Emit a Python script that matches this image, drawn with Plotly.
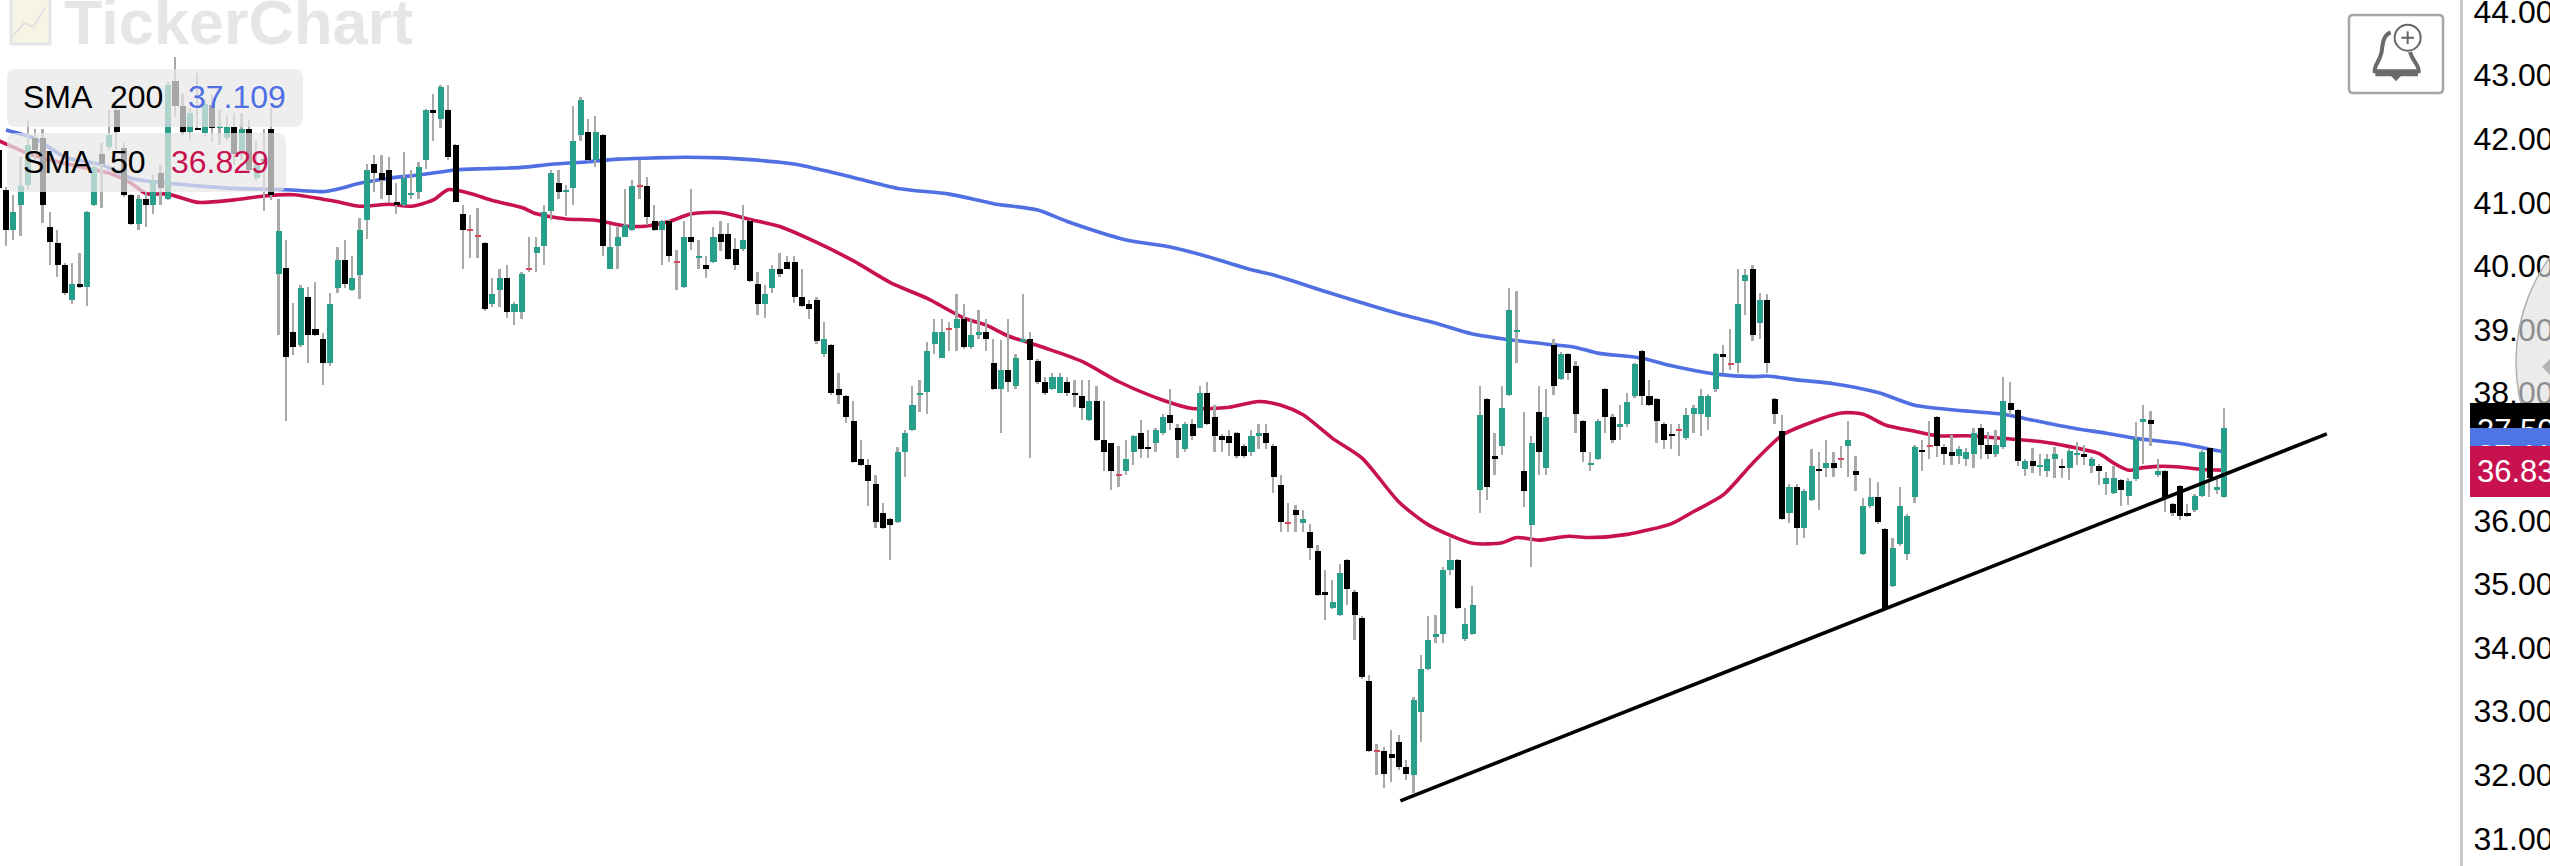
import plotly.graph_objects as go

# ---------- data (price values) ----------
opens = [
41.82,41.20,40.57,40.96,41.27,42.01,42.01,40.61,40.36,40.02,
39.47,39.71,39.67,40.96,41.76,41.87,42.45,41.85,41.11,40.66,
41.05,40.96,41.46,41.06,42.91,42.51,42.11,42.17,42.09,42.53,
42.17,42.02,42.18,41.77,42.15,41.38,41.68,42.15,39.87,39.97,
38.97,38.76,39.52,39.01,38.86,38.47,39.66,40.10,39.62,39.86,
40.72,41.61,41.46,41.51,41.01,40.96,41.12,41.17,41.67,42.45,
42.31,42.45,41.90,40.81,40.57,40.47,40.36,39.41,39.62,39.81,
39.27,39.27,39.96,40.21,40.31,40.87,41.31,41.17,41.22,42.06,
42.11,41.66,42.06,39.96,40.31,40.46,40.57,41.26,41.26,40.71,
40.57,40.70,40.07,39.67,40.46,40.12,40.02,40.07,40.51,40.51,
40.26,40.26,40.71,39.71,39.41,39.66,39.96,40.06,40.06,39.51,
39.41,39.47,38.62,38.76,38.06,37.96,37.57,36.96,36.87,36.57,
36.12,36.02,35.97,37.07,37.42,37.97,38.02,38.77,38.56,39.02,
39.02,39.16,38.72,38.92,38.97,38.47,38.07,38.36,38.12,38.81,
38.86,38.51,38.17,38.07,38.01,38.17,38.01,37.96,37.58,37.87,
37.26,37.21,36.72,36.77,37.07,37.37,37.16,37.22,37.37,37.66,
37.46,37.12,37.52,37.46,38.01,37.62,37.32,37.32,37.37,37.17,
37.07,37.33,37.37,37.17,36.56,35.97,36.16,35.96,35.82,35.52,
34.87,34.62,34.52,35.37,34.87,34.47,33.47,32.38,32.38,32.33,
32.52,32.13,31.99,32.98,33.67,34.17,34.22,35.22,35.37,34.13,
34.22,36.48,37.91,37.01,37.17,37.97,38.97,36.77,35.93,37.71,
36.82,38.76,38.22,38.61,38.42,37.56,36.87,36.97,38.06,37.62,
37.47,37.52,37.96,38.66,37.96,37.91,37.52,37.36,37.42,37.29,
37.67,37.67,37.62,38.07,38.61,38.47,38.47,39.76,39.96,39.11,
39.47,37.91,37.41,36.12,36.52,35.88,36.32,36.81,36.82,36.91,
36.97,37.17,36.77,35.47,36.22,36.37,35.86,34.97,35.63,35.47,
36.37,37.11,37.17,37.62,37.16,37.07,37.01,36.96,37.05,37.46,
37.18,37.04,37.15,37.84,37.73,36.81,36.93,36.85,36.77,36.97,
36.86,36.82,37.04,37.04,36.86,36.86,36.57,36.43,36.63,36.39,
36.65,37.54,37.58,36.71,36.78,36.26,36.54,36.12,36.16,36.39,
37.14,36.48,36.37]

closes = [
41.22,40.57,40.85,41.26,41.90,41.82,40.96,40.37,40.02,39.57,
39.71,39.67,40.85,41.56,41.61,42.06,42.10,41.12,40.66,41.06,
40.96,41.36,41.22,42.85,42.52,42.10,42.40,42.15,42.55,42.17,
42.19,42.18,41.76,42.15,41.51,41.59,41.66,41.12,40.55,38.57,
38.72,39.66,38.92,38.92,38.47,39.41,40.10,39.72,39.81,40.57,
41.51,41.47,41.36,41.12,40.96,41.39,41.15,41.56,42.45,42.41,
42.81,41.71,41.01,40.57,40.57,40.47,39.32,39.56,39.81,39.27,
39.41,39.87,39.96,40.30,40.85,41.46,41.17,41.20,41.96,42.61,
41.67,42.11,40.31,40.30,40.46,40.65,41.26,41.26,40.77,40.57,
40.70,40.16,40.07,40.46,40.37,40.16,39.96,40.46,40.37,40.11,
40.02,40.41,39.77,39.41,39.56,39.96,39.87,39.96,39.52,39.37,
39.32,38.82,38.86,38.01,37.97,37.62,36.92,36.87,36.62,35.97,
35.88,35.93,37.07,37.37,37.81,38.01,38.67,38.97,38.97,39.02,
39.16,38.72,38.92,38.97,38.86,38.07,38.36,38.17,38.56,38.86,
38.52,38.17,38.01,38.26,38.26,38.01,37.97,37.77,37.87,37.27,
37.07,36.77,36.72,36.96,37.32,37.12,37.12,37.42,37.62,37.53,
37.27,37.52,37.32,38.01,37.52,37.32,37.26,37.22,37.01,37.02,
37.32,37.37,37.22,36.68,35.98,35.97,36.08,36.02,35.57,34.83,
34.83,34.71,35.17,34.92,34.52,33.53,32.38,32.38,32.02,32.27,
32.13,32.02,33.18,33.67,34.12,34.22,35.22,35.38,34.62,34.37,
34.67,37.66,36.52,36.97,37.76,39.31,39.00,36.47,37.21,37.07,
37.62,38.12,38.61,38.32,37.67,37.07,36.91,37.56,37.62,37.26,
37.51,37.86,38.46,37.96,37.81,37.56,37.26,37.32,37.42,37.66,
37.76,37.96,37.96,38.61,38.57,38.47,39.41,39.86,38.92,39.47,
38.47,37.67,36.02,36.52,35.88,36.47,36.86,36.77,36.91,36.82,
36.97,37.27,36.72,36.22,36.37,35.97,34.62,35.56,36.22,36.07,
37.16,37.08,37.17,37.17,37.05,37.01,37.12,37.07,37.38,37.19,
37.05,37.18,37.88,37.74,36.93,36.93,36.86,36.87,36.97,37.05,
36.82,37.09,37.06,36.99,36.97,36.78,36.66,36.66,36.48,36.62,
37.28,37.59,37.52,36.78,36.35,36.11,36.07,36.07,36.39,37.07,
36.66,36.53,37.46]

highs = [
41.90,41.25,41.12,41.72,42.30,42.16,42.16,40.85,40.56,40.05,
40.04,40.21,40.87,41.65,41.93,42.45,42.48,41.93,41.13,41.12,
41.17,41.43,41.59,42.90,43.29,42.71,42.48,43.04,42.62,42.69,
42.45,42.37,42.40,42.40,42.30,41.96,42.15,42.48,41.06,40.41,
39.42,39.70,39.67,39.75,38.95,39.57,40.30,40.41,40.16,40.75,
41.61,41.75,41.75,41.71,41.30,41.80,41.51,41.64,42.47,42.70,
42.85,42.85,41.92,40.96,40.80,40.91,40.38,39.81,39.96,40.02,
39.43,39.91,40.46,40.46,40.96,41.51,41.51,41.27,42.51,42.66,
42.31,42.36,42.08,40.65,40.62,41.21,41.35,41.66,41.40,40.96,
40.72,40.72,40.25,40.70,41.21,40.41,40.16,40.62,40.70,40.67,
40.44,40.96,40.73,39.91,39.70,40.02,40.21,40.15,40.15,39.96,
39.47,39.52,39.12,38.78,38.31,37.97,37.87,37.26,36.96,36.71,
36.27,36.03,37.16,37.42,38.11,38.21,38.81,39.16,39.16,39.12,
39.56,39.41,39.18,39.31,39.16,38.86,38.84,39.16,38.62,39.56,
38.97,38.53,38.26,38.32,38.31,38.26,38.21,38.21,38.21,38.11,
37.87,37.22,37.17,37.26,37.35,37.58,37.42,37.45,37.68,38.06,
37.52,37.55,37.60,38.11,38.17,37.81,37.36,37.42,37.39,37.20,
37.42,37.52,37.52,37.20,36.71,36.27,36.25,36.16,35.95,35.61,
35.22,35.06,35.32,35.40,34.90,34.49,33.57,32.49,32.44,32.71,
32.62,32.23,33.23,33.88,34.49,34.51,35.27,35.72,35.39,34.62,
34.97,38.12,37.93,37.37,38.11,39.66,39.61,37.71,37.32,38.11,
38.06,38.86,38.65,38.63,38.51,37.58,37.07,37.60,38.08,37.67,
37.81,38.01,38.48,38.68,38.21,37.93,37.54,37.52,37.52,37.76,
37.81,38.06,37.98,38.63,38.76,39.01,39.96,39.96,40.02,39.57,
39.56,37.92,37.66,36.57,36.57,36.50,37.12,37.07,37.27,37.07,
37.17,37.56,37.01,36.36,36.66,36.61,35.88,35.72,36.52,36.10,
37.18,37.26,37.57,37.64,37.20,37.34,37.17,37.14,37.46,37.51,
37.39,37.42,38.26,38.17,37.75,36.96,37.14,37.04,37.05,37.16,
36.97,37.13,37.24,37.19,37.00,36.88,36.76,36.86,36.65,36.66,
37.54,37.82,37.72,36.97,36.80,36.28,36.56,36.26,36.42,37.10,
37.16,36.66,37.76]

lows = [
41.10,40.31,40.41,40.47,41.19,41.67,40.67,40.02,39.82,39.54,
39.41,39.65,39.37,40.94,40.91,41.82,41.82,41.08,40.64,40.57,
40.62,40.82,40.96,41.03,42.35,42.06,41.97,42.15,42.05,41.95,
41.90,41.98,41.59,41.67,41.46,41.33,40.87,41.04,38.92,37.57,
38.60,38.73,38.47,38.90,38.13,38.42,39.57,39.65,39.60,39.48,
40.42,41.17,41.06,40.99,40.82,40.94,41.06,41.06,41.52,41.97,
42.17,41.67,41.00,39.96,40.12,40.12,39.30,39.36,39.36,39.18,
39.07,39.16,39.91,39.91,40.02,40.72,41.06,40.78,40.96,41.97,
41.65,41.56,40.16,39.95,39.96,40.45,40.55,41.06,40.65,40.55,
40.02,40.07,39.62,39.65,40.25,39.96,39.81,40.05,40.23,40.10,
39.93,40.24,39.75,39.23,39.18,39.57,39.83,39.95,39.42,39.35,
39.16,38.77,38.57,37.97,37.83,37.53,36.90,36.85,36.23,35.88,
35.87,35.38,35.96,36.68,37.40,37.70,37.67,38.62,38.55,38.67,
38.67,38.70,38.70,38.86,38.67,38.05,37.38,38.02,38.07,38.81,
36.98,38.15,37.97,38.05,38.00,37.96,37.78,37.58,37.57,37.25,
36.78,36.48,36.52,36.71,36.87,36.98,36.98,37.08,37.35,37.42,
36.98,37.07,37.27,37.45,37.50,37.07,37.07,37.01,36.98,36.98,
37.01,37.12,37.12,36.43,35.82,35.82,35.82,35.82,35.38,34.81,
34.43,34.60,34.50,34.67,34.12,33.50,32.36,32.00,31.79,31.89,
32.08,31.92,31.71,32.52,33.65,34.07,34.07,35.14,34.60,34.11,
34.20,36.12,36.32,36.72,37.03,37.95,38.47,36.21,35.27,36.72,
36.72,37.97,38.20,38.20,37.37,36.92,36.77,36.95,37.37,37.22,
37.26,37.47,37.93,37.81,37.80,37.22,37.12,37.12,37.02,37.26,
37.37,37.32,37.42,38.02,38.31,38.37,38.31,39.23,38.82,38.86,
38.31,37.52,36.00,35.96,35.62,35.72,36.30,36.17,36.68,36.68,
36.82,36.68,36.47,35.45,36.20,35.95,34.60,34.95,35.60,35.38,
36.27,36.77,36.97,36.99,36.87,36.87,36.89,36.86,36.83,36.97,
36.97,37.00,37.13,37.66,36.86,36.70,36.74,36.70,36.69,36.67,
36.66,36.64,36.87,36.87,36.74,36.56,36.40,36.42,36.22,36.24,
36.62,36.89,37.17,36.69,36.13,36.07,36.01,36.05,36.14,36.37,
36.37,36.42,36.35]

sma200_x = [1,5,9,14,18,23,27,32,39,44,46,49,53,57,62,66,71,75,80,84,89,93,98,
            101,106,109,115,122,129,135,141,145,153,159,164,170,173,180,190,195,200,205,211,214,217,
            223,227,233,238,240,244,249,255,260,265,272,275,281,286,290,296,300,302]
sma200_y = [42.14,42.00,41.71,41.59,41.38,41.30,41.26,41.22,41.20,41.17,41.21,41.30,41.38,41.43,41.51,41.53,41.55,41.60,41.64,41.68,41.70,41.71,41.70,
            41.68,41.63,41.58,41.42,41.22,41.13,40.98,40.88,40.70,40.41,40.30,40.15,39.94,39.86,39.60,39.25,39.10,38.93,38.84,38.76,38.72,38.63,
            38.55,38.43,38.30,38.26,38.27,38.21,38.15,38.01,37.81,37.74,37.67,37.60,37.46,37.37,37.29,37.21,37.12,37.08]

sma50_x = [0,4,9,15,18,20,23,27,32,36,40,44,46,49,53,56,59,61,64,67,71,73,77,81,85,88,91,94,98,102,106,111,116,121,126,131,134,137,142,147,
           152,158,162,167,171,174,177,181,185,190,194,200,204,206,209,213,216,221,227,230,234,238,242,245,250,253,256,260,263,267,272,277,281,285,287,289,291,293,296,299,302]
sma50_y = [41.97,41.77,41.61,41.46,41.30,41.14,41.13,41.00,41.04,41.10,41.12,41.05,41.01,40.94,40.97,40.94,41.04,41.20,41.14,41.03,40.92,40.82,40.74,40.72,40.63,40.63,40.70,40.82,40.84,40.73,40.62,40.37,40.08,39.74,39.49,39.18,39.07,38.90,38.71,38.50,
           38.18,37.89,37.76,37.78,37.87,37.81,37.66,37.29,36.98,36.29,35.93,35.64,35.65,35.73,35.69,35.75,35.73,35.78,35.95,36.14,36.40,36.90,37.34,37.50,37.69,37.67,37.50,37.40,37.33,37.33,37.29,37.24,37.16,37.05,36.90,36.79,36.83,36.85,36.84,36.80,36.79]

trend_x = [190.2, 315.9]
trend_y = [31.59, 37.36]

y_ticks = [31,32,33,34,35,36,37,38,39,40,41,42,43,44]
sma200_label = "37.109"
sma50_label = "36.829"
last_price_label = "37.50"
sma200_tag = "37.11"
sma50_tag = "36.83"

# ---------- styles ----------
W, H, PLOT_R = 2550, 866, 90
PW = W - PLOT_R
TEAL, BLACK, RED = "#279f8b", "#000000", "#d9485a"
BLUE, CRIM = "#4f6fe2", "#c8124f"
FONT = "Liberation Sans"
n = len(opens)
xs = list(range(n))
DOJI = 0.012

def px(x): return x / PW
def py(y): return 1 - y / H
def rrect(x0, y0, x1, y1, r):
    return (f"M{px(x0+r)},{py(y0)} L{px(x1-r)},{py(y0)} Q{px(x1)},{py(y0)} {px(x1)},{py(y0+r)} "
            f"L{px(x1)},{py(y1-r)} Q{px(x1)},{py(y1)} {px(x1-r)},{py(y1)} "
            f"L{px(x0+r)},{py(y1)} Q{px(x0)},{py(y1)} {px(x0)},{py(y1-r)} "
            f"L{px(x0)},{py(y0+r)} Q{px(x0)},{py(y0)} {px(x0+r)},{py(y0)} Z")
def b(zx, zy):   # bell icon drawing grid
    return f"{px(2300+zx/3)},{py(zy/3)}"

body_base = [min(o, c) if o != c else o - DOJI for o, c in zip(opens, closes)]
body_h = [abs(c - o) if o != c else 2 * DOJI for o, c in zip(opens, closes)]
body_col = [TEAL if c > o else (BLACK if c < o else RED) for o, c in zip(opens, closes)]

fig = go.Figure()
fig.add_trace(go.Scatter(x=sma200_x, y=sma200_y, mode="lines",
                         line=dict(color=BLUE, width=3.6, shape="spline", smoothing=0.7), name="SMA 200"))
fig.add_trace(go.Scatter(x=sma50_x, y=sma50_y, mode="lines",
                         line=dict(color=CRIM, width=3.6, shape="spline", smoothing=0.7), name="SMA 50"))
fig.add_trace(go.Bar(x=xs, base=lows, y=[h - l for h, l in zip(highs, lows)], width=0.24,
                     marker=dict(color="#a9a9a9", line=dict(width=0)), xaxis="x2", yaxis="y2", name="wick"))
fig.add_trace(go.Bar(x=xs, base=body_base, y=body_h, width=0.82,
                     marker=dict(color=body_col, line=dict(width=0)), xaxis="x2", yaxis="y2", name="body"))
fig.add_trace(go.Scatter(x=trend_x, y=trend_y, mode="lines", line=dict(color="#000000", width=3.6),
                         xaxis="x3", yaxis="y3", name="trend"))

shapes = [
    # watermark logo
    dict(type="rect", xref="paper", yref="paper", x0=px(11), x1=px(50), y0=py(44), y1=py(-3),
         fillcolor="#f7f4e4", line=dict(color="#e6e6e6", width=3), layer="below"),
    dict(type="path", xref="paper", yref="paper", layer="below", line=dict(color="#e2e2e2", width=2),
         path=f"M{px(12)},{py(37)} L{px(24)},{py(23)} L{px(33)},{py(27)} L{px(45)},{py(8)}"),
    # legend panels
    dict(type="path", xref="paper", yref="paper", path=rrect(7, 69, 303, 127, 9),
         fillcolor="rgba(231,231,231,0.72)", line=dict(width=0), layer="above"),
    dict(type="path", xref="paper", yref="paper", path=rrect(7, 133, 286, 192, 9),
         fillcolor="rgba(231,231,231,0.72)", line=dict(width=0), layer="above"),
    # alert button
    dict(type="path", xref="paper", yref="paper", path=rrect(2349, 15, 2443, 93, 4),
         fillcolor="#ffffff", line=dict(color="#a6a6a6", width=2.5), layer="above"),
    dict(type="path", xref="paper", yref="paper", layer="above", line=dict(color="#6a6a6a", width=4),
         path=f"M{b(272,97)} C{b(250,105)} {b(248,130)} {b(245,155)} C{b(240,185)} {b(222,195)} {b(224,214)} "
              f"L{b(356,214)} C{b(358,195)} {b(338,185)} {b(330,156)}"),
    dict(type="path", xref="paper", yref="paper", layer="above", line=dict(color="#6a6a6a", width=6),
         path=f"M{b(226,220)} L{b(354,220)}"),
    dict(type="path", xref="paper", yref="paper", layer="above", fillcolor="#6a6a6a", line=dict(width=0),
         path=f"M{b(270,224)} L{b(306,224)} L{b(288,244)} Z"),
    dict(type="circle", xref="paper", yref="paper", layer="above", line=dict(color="#666666", width=2),
         x0=px(2300+284/3), x1=px(2300+362/3), y0=py(152/3), y1=py(74/3)),
    dict(type="path", xref="paper", yref="paper", layer="above", line=dict(color="#666666", width=2),
         path=f"M{b(304,113)} L{b(342,113)} M{b(323,94)} L{b(323,132)}"),
    # translucent drag circle at the right edge, then its grip (moved to the very top by the script below)
    dict(type="circle", xref="paper", yref="paper", layer="above",
         x0=px(2516), x1=px(2874), y0=py(541), y1=py(183),
         fillcolor="rgba(223,223,223,0.63)", line=dict(color="#b0b0b0", width=1.5)),
    dict(type="path", xref="paper", yref="paper", layer="above", fillcolor="#b4b4b4", line=dict(width=0),
         path=f"M{px(2542)},{py(367)} L{px(2553)},{py(356)} L{px(2564)},{py(367)} L{px(2553)},{py(378)} Z"),
]

def txt(text, x, y, color="#000000", size=32, **kw):
    return dict(text=text, xref="paper", yref="paper", x=px(x), y=py(y), xanchor="left", yanchor="middle",
                showarrow=False, borderpad=0, font=dict(family=FONT, size=size, color=color), **kw)

def badge(text, y0, y1, color):
    pad = 7
    return dict(text=text, xref="paper", yref="paper", x=px(2470), y=py(y0), xanchor="left", yanchor="top",
                showarrow=False, bgcolor=color, borderpad=pad, borderwidth=0, align="left", valign="middle",
                width=100, height=y1 - y0 - 2 * pad, font=dict(family=FONT, size=31, color="#ffffff"))

annotations = [
    txt("<b>TickerChart</b>", 63, 22, color="#e6e6e6", size=63),
    txt("SMA", 22, 97), txt("200", 109, 97), txt(sma200_label, 187, 97, color=BLUE),
    txt("SMA", 22, 162), txt("50", 109, 162), txt(sma50_label, 170, 162, color=CRIM),
    badge(last_price_label, 403, 457, "#000000"),
    badge(sma200_tag, 428, 484, "#4f74e4"),
    badge(sma50_tag, 446, 497, "#c8124f"),
]

x_range = [1.4 / 7.37, (PW + 1.4) / 7.37]
y_range = [40 - (H - 266) / 63.6, 40 + 266 / 63.6]

hidden = dict(visible=False, range=x_range, fixedrange=True)
fig.update_layout(
    width=W, height=H, autosize=False,
    margin=dict(l=0, r=PLOT_R, t=0, b=0, pad=0),
    paper_bgcolor="#ffffff", plot_bgcolor="#ffffff",
    showlegend=False, barmode="overlay", bargap=0,
    xaxis=dict(**hidden),
    xaxis2=dict(overlaying="x", matches="x", **hidden),
    xaxis3=dict(overlaying="x", matches="x", **hidden),
    yaxis=dict(side="right", range=y_range, tickvals=y_ticks, ticktext=[f"{v:.2f}" for v in y_ticks],
               showgrid=False, zeroline=False, showline=True, linecolor="#c8c8c8", linewidth=3,
               ticks="", ticklabelstandoff=4, ticklabeloverflow="allow", fixedrange=True, automargin=False,
               tickfont=dict(family=FONT, size=32, color="#000000")),
    yaxis2=dict(overlaying="y", matches="y", visible=False, range=y_range),
    yaxis3=dict(overlaying="y", matches="y", visible=False, range=y_range),
    shapes=shapes, annotations=annotations,
)

post = """
document.body.style.margin = '0';
var svg = document.querySelector('.main-svg');
var paths = document.querySelectorAll('.layer-above .shapelayer path');
var total = paths.length;
for (var i = total - 2; i < total; i++) { svg.appendChild(paths[i]); }
"""
fig.write_html("out.html", post_script=post, config=dict(displayModeBar=False))
